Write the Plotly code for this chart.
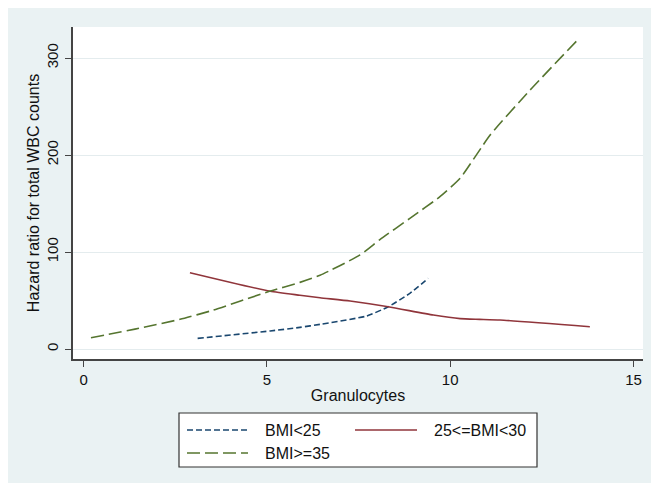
import plotly.graph_objects as go

# ---- data ----
bmi25_x = [3.11, 5.09, 5.9, 6.45, 7.72, 8.31, 8.9, 9.4]
bmi25_y = [11, 18.6, 22.3, 25.4, 34, 43.6, 57.4, 72.9]

bmi2530_x = [2.9, 5.09, 5.9, 6.45, 7.27, 8.31, 9.54, 10.27, 10.8, 11.36, 13.81]
bmi2530_y = [78.7, 59.5, 55.5, 52.9, 49.5, 43.6, 35, 31.3, 30.6, 29.9, 23]

bmi35_x = [0.2, 1.4, 2.63, 3.53, 5.03, 5.9, 6.45, 7.54, 8.09, 8.9, 9.72, 10.27, 11.09, 12.18, 13.51]
bmi35_y = [11.6, 20.5, 30.6, 40, 59, 68.7, 76, 97, 113, 134.7, 157, 176, 220.6, 267, 320]

series_names = ["BMI<25", "25<=BMI<30", "BMI>=35"]
x_ticks = [0, 5, 10, 15]
y_ticks = [0, 100, 200, 300]
x_title = "Granulocytes"
y_title = "Hazard ratio for total WBC counts"

# ---- styling ----
colors = ["#1A476F", "#90353B", "#55752F"]
dashes = ["6px,3px", "solid", "13px,5px"]
FONT = "Liberation Sans, Arial, sans-serif"
OFF = 8                      # page body margin
W, H = 659 - OFF, 483 - OFF  # figure size so it fits in the window
ML, MR, MT, MB = 73 - OFF, 16, 27 - OFF, 124
PW, PH = W - ML - MR, H - MT - MB


def px(xs):
    # screen x -> paper fraction
    return (xs - OFF - ML) / PW


def py(ys):
    # screen y -> paper fraction
    return (H - MB - (ys - OFF)) / PH


fig = go.Figure()
for xs, ys, name, c, d in [
    (bmi25_x, bmi25_y, series_names[0], colors[0], dashes[0]),
    (bmi2530_x, bmi2530_y, series_names[1], colors[1], dashes[1]),
    (bmi35_x, bmi35_y, series_names[2], colors[2], dashes[2]),
]:
    fig.add_trace(go.Scatter(x=xs, y=ys, mode="lines", name=name,
                             line=dict(color=c, width=1.6, dash=d, shape="spline", smoothing=0.5),
                             showlegend=False))

shapes = [
    # legend box
    dict(type="rect", xref="paper", yref="paper", layer="above",
         x0=px(179), x1=px(537), y0=py(467), y1=py(413),
         fillcolor="white", line=dict(color="#333333", width=1.2)),
]
annotations = []
legend_pos = [(187, 248, 263, 430), (355, 417, 432, 430), (187, 248, 263, 453)]
for (lx0, lx1, tx, ly), name, c, d in zip(legend_pos, series_names, colors, dashes):
    shapes.append(dict(type="line", xref="paper", yref="paper",
                       x0=px(lx0), x1=px(lx1), y0=py(ly), y1=py(ly),
                       line=dict(color=c, width=1.6, dash=d)))
    annotations.append(dict(xref="paper", yref="paper", x=px(tx), y=py(ly),
                            xanchor="left", yanchor="middle", showarrow=False,
                            text=name, font=dict(family=FONT, size=16, color="#111111")))

fig.update_layout(
    width=W, height=H,
    margin=dict(l=ML, r=MR, t=MT, b=MB),
    paper_bgcolor="#EAF2F3", plot_bgcolor="white",
    font=dict(family=FONT, size=15, color="#111111"),
    shapes=shapes, annotations=annotations,
    xaxis=dict(range=[-0.29, 15.26], tickvals=x_ticks, ticks="outside", ticklen=6,
               tickcolor="#444444", tickwidth=1.2, ticklabelstandoff=0,
               showline=True, linecolor="#444444", linewidth=1.5,
               showgrid=False, zeroline=False,
               tickfont=dict(size=15),
               title=dict(text=x_title, font=dict(size=16), standoff=3)),
    yaxis=dict(range=[-10.3, 332], tickvals=y_ticks, ticks="outside", ticklen=6,
               tickcolor="#444444", tickwidth=1.2, tickangle=-90, ticklabelstandoff=1,
               showline=True, linecolor="#444444", linewidth=1.5,
               showgrid=True, gridcolor="#E4ECEE", gridwidth=1.2, zeroline=False,
               tickfont=dict(size=15),
               title=dict(text=y_title, font=dict(size=16), standoff=1)),
)

fig.write_html("out.html")
